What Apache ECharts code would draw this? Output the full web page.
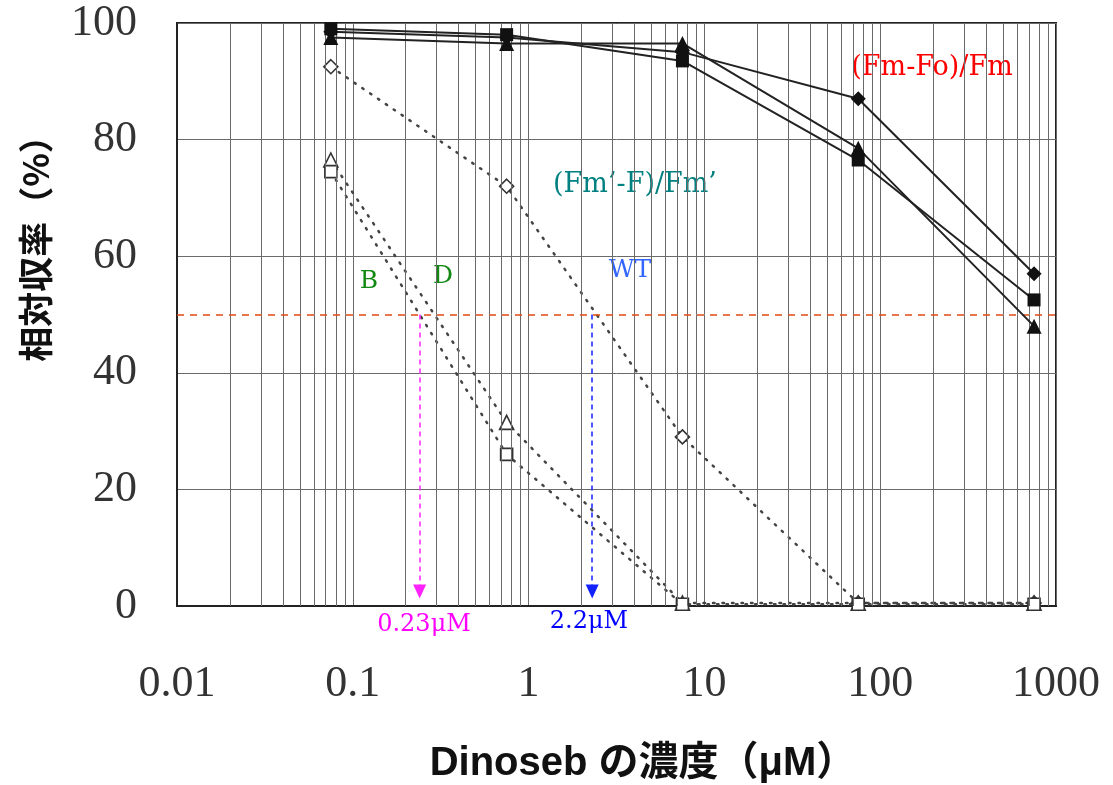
<!DOCTYPE html>
<html>
<head>
<meta charset="utf-8">
<script src="https://cdn.jsdelivr.net/npm/echarts@6/dist/echarts.min.js"></script>
<style>
  html, body { margin: 0; padding: 0; background: #fff; }
  #chart { width: 1113px; height: 785px; }
</style>
</head>
<body>
<div id="chart"></div>
<script>
// concentrations (µM) and relative yields (%)
const conc = [0.075, 0.75, 7.5, 75, 750];
const fmDiamond = [98.5, 97.5, 95, 87, 57];
const fmSquare = [99, 98, 93.5, 76.5, 52.5];
const fmTriangle = [97.5, 96.5, 96.5, 78.5, 48];
const wtOpen = [92.5, 72, 29, 0.5, 0.5];   // WT, open diamond
const dOpen = [76.5, 31.5, 0.5, 0.5, 0.5]; // D, open triangle
const bOpen = [74.5, 26, 0.3, 0.3, 0.3];   // B, open square
const halfLevel = 50;
const ic50B = 0.24;   // labelled 0.23µM
const ic50WT = 2.3;   // labelled 2.2µM
const xTicks = [0.01, 0.1, 1, 10, 100, 1000];

// minor log grid (2..9 in each decade)
const minorLines = [];
for (let k = 0; k < xTicks.length - 1; k++) {
  for (let m = 2; m <= 9; m++) minorLines.push({ xAxis: m * xTicks[k] });
}

const pairs = (ys) => conc.map((x, i) => [x, ys[i]]);

const solid = (data, symbol, size) => ({
  type: 'line', data: pairs(data), symbol, symbolSize: size,
  itemStyle: { color: '#111' },
  lineStyle: { color: '#222', width: 2 },
  z: 5, animation: false
});
const dotted = (data, symbol, size) => ({
  type: 'line', data: pairs(data), symbol, symbolSize: size,
  itemStyle: { color: '#fff', borderColor: '#333', borderWidth: 1.6 },
  lineStyle: { color: '#444', width: 2.5, type: [1.5, 8], cap: 'round' },
  z: 4, animation: false
});

const chart = echarts.init(document.getElementById('chart'));
chart.setOption({
  backgroundColor: '#fff',
  animation: false,
  grid: { left: 177, right: 57, top: 23, bottom: 179, show: true,
          borderColor: '#222', borderWidth: 2, backgroundColor: 'transparent' },
  xAxis: {
    type: 'log', min: 0.01, max: 1000, logBase: 10,
    axisLine: { show: true, lineStyle: { color: '#222', width: 2 } },
    axisTick: { show: false },
    axisLabel: { fontFamily: 'Liberation Serif', fontSize: 44, color: '#333', margin: 56,
                 formatter: (v) => String(+v.toPrecision(3)) },
    splitLine: { show: true, lineStyle: { color: '#6a6a6a', width: 1 } }
  },
  yAxis: {
    type: 'value', min: 0, max: 100, interval: 20,
    axisLine: { show: true, lineStyle: { color: '#222', width: 2 } },
    axisTick: { show: false },
    axisLabel: { fontFamily: 'Liberation Serif', fontSize: 44, color: '#333', margin: 40 },
    splitLine: { show: true, lineStyle: { color: '#6a6a6a', width: 1 } }
  },
  graphic: [
    { type: 'text', x: 36, y: 240, rotation: Math.PI / 2,
      style: { text: '相対収率（%）', font: 'bold 35px "Noto Sans CJK JP"', fill: '#111',
               textAlign: 'center', textVerticalAlign: 'middle' } },
    { type: 'text', x: 643, y: 764,
      style: { text: 'Dinoseb の濃度（μM）', font: 'bold 40px "Liberation Sans", "Noto Sans CJK JP"',
               fill: '#111', textAlign: 'center', textVerticalAlign: 'middle' } },
    { type: 'text', x: 932, y: 68, style: { text: '(Fm-Fo)/Fm', font: '27px "DejaVu Serif"',
      fill: '#ff0000', textAlign: 'center', textVerticalAlign: 'middle' } },
    { type: 'text', x: 635, y: 185, style: { text: '(Fm’-F)/Fm’', font: '27px "DejaVu Serif"',
      fill: '#008080', textAlign: 'center', textVerticalAlign: 'middle' } },
    { type: 'text', x: 369, y: 281, style: { text: 'B', font: '25px "DejaVu Serif"',
      fill: '#118811', textAlign: 'center', textVerticalAlign: 'middle' } },
    { type: 'text', x: 443, y: 276, style: { text: 'D', font: '25px "DejaVu Serif"',
      fill: '#118811', textAlign: 'center', textVerticalAlign: 'middle' } },
    { type: 'text', x: 630, y: 270, style: { text: 'WT', font: '25px "DejaVu Serif"',
      fill: '#3366ff', textAlign: 'center', textVerticalAlign: 'middle' } },
    { type: 'text', x: 424, y: 625, style: { text: '0.23μM', font: '24px "DejaVu Serif"',
      fill: '#ff00ff', textAlign: 'center', textVerticalAlign: 'middle' } },
    { type: 'text', x: 589, y: 622, style: { text: '2.2μM', font: '24px "DejaVu Serif"',
      fill: '#0000ff', textAlign: 'center', textVerticalAlign: 'middle' } }
  ],
  series: [
    {
      type: 'line', data: [], z: 1, animation: false,
      markLine: {
        silent: true, symbol: 'none', label: { show: false },
        lineStyle: { color: '#6a6a6a', width: 1, type: 'solid' },
        data: minorLines
      }
    },
    {
      type: 'line', data: [], z: 3, animation: false,
      markLine: {
        silent: true, symbol: 'none', label: { show: false },
        data: [
          { yAxis: halfLevel, lineStyle: { color: '#e04a10', width: 1.5, type: [7, 6] } },
          [{ coord: [ic50B, halfLevel], symbol: 'none' },
           { coord: [ic50B, 2.5], symbol: 'triangle', symbolSize: [13, 14],
             lineStyle: { color: '#ff22ff', width: 1.5, type: [5, 4] } }],
          [{ coord: [ic50WT, halfLevel], symbol: 'none' },
           { coord: [ic50WT, 2.5], symbol: 'triangle', symbolSize: [13, 14],
             lineStyle: { color: '#1122ff', width: 1.5, type: [5, 4] } }]
        ]
      }
    },
    dotted(wtOpen, 'diamond', 14),
    dotted(dOpen, 'triangle', 14),
    dotted(bOpen, 'rect', 12),
    solid(fmDiamond, 'diamond', 15),
    solid(fmSquare, 'rect', 13),
    solid(fmTriangle, 'triangle', 15)
  ]
});
</script>
</body>
</html>
